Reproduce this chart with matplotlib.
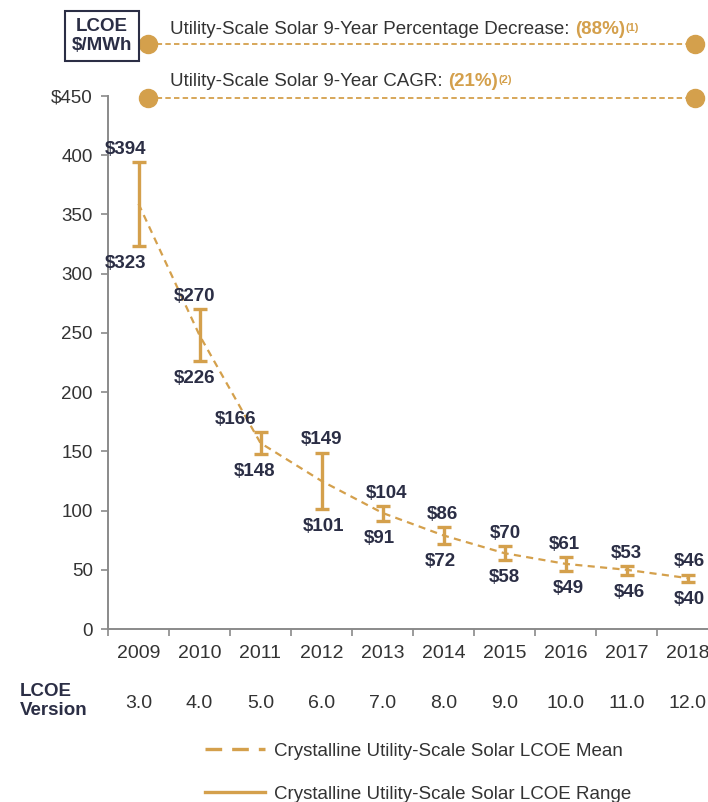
import matplotlib
matplotlib.use("Agg")
import matplotlib.pyplot as plt
from matplotlib.lines import Line2D
import numpy as np

plt.rcParams['font.family'] = ['Liberation Sans', 'DejaVu Sans']

years = ["2009", "2010", "2011", "2012", "2013", "2014", "2015", "2016", "2017", "2018"]
versions = ["3.0", "4.0", "5.0", "6.0", "7.0", "8.0", "9.0", "10.0", "11.0", "12.0"]
lcoe_high = [394, 270, 166, 149, 104, 86, 70, 61, 53, 46]
lcoe_low = [323, 226, 148, 101, 91, 72, 58, 49, 46, 40]
lcoe_mean = [359, 248, 157, 125, 98, 79, 64, 55, 50, 43]
yticks = [0, 50, 100, 150, 200, 250, 300, 350, 400, 450]
ytick_labels = ["0", "50", "100", "150", "200", "250", "300", "350", "400", "$450"]

GOLD = "#D4A04C"
NAVY = "#2B2E45"
GRAY_TXT = "#333333"
SPINE = "#8A8A8A"
FS = 13.5
FS_TICK = 14

W, H = 708, 802
fig = plt.figure(figsize=(W / 100, H / 100), dpi=100)

def fx(px):
    return px / W

def fy(py):
    return 1 - py / H

ax = fig.add_axes([fx(108), fy(629), fx(718) - fx(108), fy(96) - fy(629)])
x = np.arange(len(years))

ax.plot(x, lcoe_mean, color=GOLD, lw=1.6, ls=(0, (3.2, 2.4)), zorder=2)
mid = [(h + l) / 2 for h, l in zip(lcoe_high, lcoe_low)]
err = [[m - l for m, l in zip(mid, lcoe_low)], [h - m for h, m in zip(lcoe_high, mid)]]
ax.errorbar(x, mid, yerr=err, fmt='none', ecolor=GOLD, elinewidth=2.4,
            capsize=5, capthick=2.4, zorder=3)

# label nudges (pixels, horizontal) for readability
hi_nudge = [-13, -5, -25, 0, 4, -1, 1, -1, 0, 2]
lo_nudge = [-13, -5, -6, 2, -3, -3, 0, 3, 3, 2]
for i in range(len(years)):
    ax.annotate(f"${lcoe_high[i]}", (x[i], lcoe_high[i]), xytext=(hi_nudge[i] * 0.72, 3),
                textcoords='offset points', ha='center', va='bottom',
                fontsize=FS, fontweight='bold', color=NAVY)
    ax.annotate(f"${lcoe_low[i]}", (x[i], lcoe_low[i]), xytext=(lo_nudge[i] * 0.72, -6.5),
                textcoords='offset points', ha='center', va='top',
                fontsize=FS, fontweight='bold', color=NAVY)

ax.set_xlim(-0.5, len(years) - 0.5)
ax.set_ylim(0, 450)
ax.set_yticks(yticks)
ax.set_yticklabels(ytick_labels)
ax.set_xticks(x)
ax.set_xticklabels(years)
ax.set_xticks(np.arange(len(years) + 1) - 0.5, minor=True)
ax.tick_params(axis='x', which='major', length=0, pad=11.5, labelsize=FS_TICK, labelcolor=GRAY_TXT)
ax.tick_params(axis='x', which='minor', length=5, width=1.2, color=SPINE, direction='out')
ax.tick_params(axis='y', length=5, width=1.2, color=SPINE, pad=6, labelsize=FS, labelcolor=GRAY_TXT)
for s in ['top', 'right']:
    ax.spines[s].set_visible(False)
for s in ['left', 'bottom']:
    ax.spines[s].set_color(SPINE)
    ax.spines[s].set_linewidth(1.4)

# LCOE version row
xt = ax.get_xaxis_transform()
for i, v in enumerate(versions):
    ax.text(x[i], (629 - 703) / 533, v, transform=xt, ha='center', va='center',
            fontsize=FS_TICK, color=GRAY_TXT)
fig.text(fx(20), fy(701), "LCOE\nVersion", ha='left', va='center', fontsize=FS,
         fontweight='bold', color=NAVY, linespacing=1.2)

# Unit box
fig.text(fx(102), fy(36), "LCOE\n$/MWh", ha='center', va='center', fontsize=FS,
         fontweight='bold', color=NAVY, linespacing=1.15,
         bbox=dict(boxstyle='square,pad=0.35', fc='white', ec=NAVY, lw=1.5))

# Header rows
rows = [
    ("Utility-Scale Solar 9-Year Percentage Decrease: ", "(88%)", "(1)", 44, 30),
    ("Utility-Scale Solar 9-Year CAGR: ", "(21%)", "(2)", 98, 82),
]
for lead, val, note, yline, ytext in rows:
    fig.add_artist(Line2D([fx(148), fx(695)], [fy(yline), fy(yline)], transform=fig.transFigure,
                          color=GOLD, lw=1.3, ls=(0, (3, 1.8))))
    fig.add_artist(Line2D([fx(148), fx(695)], [fy(yline), fy(yline)], transform=fig.transFigure,
                          color=GOLD, lw=0, marker='o', markersize=13))
    t1 = fig.text(fx(170), fy(ytext), lead, ha='left', va='center', fontsize=FS, color=GRAY_TXT)
    a2 = fig.add_artist(plt.Annotation(val, xy=(1, 0), xycoords=t1, xytext=(0, 0),
                                       textcoords='offset points', ha='left', va='bottom',
                                       fontsize=FS, color=GOLD, fontweight='bold'))
    fig.add_artist(plt.Annotation(note, xy=(1, 1), xycoords=a2, xytext=(0.5, -1),
                                  textcoords='offset points', ha='left', va='top',
                                  fontsize=8, color=GOLD, fontweight='bold'))

# Legend
handles = [Line2D([], [], color=GOLD, lw=2.4, ls=(0, (5, 3))),
           Line2D([], [], color=GOLD, lw=2.4)]
labels = ["Crystalline Utility-Scale Solar LCOE Mean", "Crystalline Utility-Scale Solar LCOE Range"]
fig.legend(handles, labels, loc='upper left', bbox_to_anchor=(fx(198), fy(735)),
           frameon=False, fontsize=FS, handlelength=3.15, handletextpad=0.5,
           labelspacing=1.4, labelcolor=GRAY_TXT, borderaxespad=0)

fig.savefig("out.png", dpi=100)
